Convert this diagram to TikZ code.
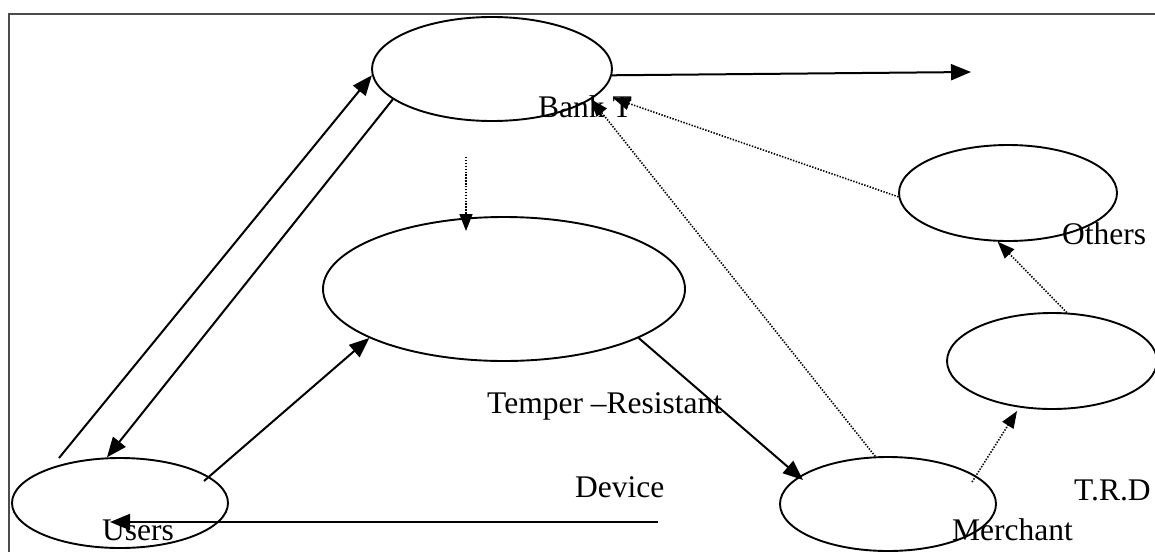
\documentclass[tikz,border=0pt]{standalone}
\usepackage{fontspec}
\setmainfont{Liberation Serif}
\usetikzlibrary{shapes.geometric,arrows.meta}
\begin{document}
\begin{tikzpicture}[x=1pt,y=-1pt,
  ell/.style={draw,ellipse,line width=1.9pt,inner sep=0pt},
  arr/.style={line width=2pt,-{Triangle[length=20pt,width=16pt]}},
  dotarr/.style={line width=1.6pt,dash pattern=on 1.4pt off 1.5pt,-{Triangle[length=17pt,width=13pt]}},
  lbl/.style={anchor=base west,inner sep=0pt,font=\fontsize{31.5}{36}\selectfont},
  frame/.style={draw=black!70,line width=2.2pt}]
\useasboundingbox (0,0) rectangle (1155,551);
\clip (0,0) rectangle (1155,551);
\draw[frame] (9,600) -- (9,14) -- (1200,14);
% ellipses
\node[ell,minimum width=240pt,minimum height=104pt] (bank) at (492,69) {};
\node[ell,minimum width=362pt,minimum height=144pt] (tamper) at (504,289) {};
\node[ell,minimum width=218pt,minimum height=96pt] (others) at (1008,193) {};
\node[ell,minimum width=210pt,minimum height=96pt] (trd) at (1052,361) {};
\node[ell,minimum width=216pt,minimum height=94pt] (merchant) at (888,504) {};
\node[ell,minimum width=216pt,minimum height=90pt] (users) at (120,503) {};
% labels
\node[lbl] (lbank) at (538,117) {Bank T};
\node[lbl] (lothers) at (1062,244) {Others};
\node[lbl] (ltamper) at (487,413) {Temper –Resistant};
\node[lbl] (ldevice) at (575,497) {Device};
\node[lbl] (lusers) at (102,540) {Users};
\node[lbl] (lmerchant) at (952,540) {Merchant};
\node[lbl] (ltrd) at (1074,500) {T.R.D};
% free coordinates
\coordinate (u1) at (59,458);
\coordinate (u2) at (204,481);
\coordinate (h1) at (658,522);
\coordinate (h2) at (110,522);
\coordinate (r1) at (971,72);
\coordinate (v1) at (466,157);
\coordinate (v2) at (466,231);
\coordinate (b2) at (613,98);
\coordinate (m2) at (972,482);
\coordinate (t2) at (1017,411);
\coordinate (mt) at (803,480);
% connectors
\draw[arr] (u1) -- (bank.183);
\draw[arr] (bank.197) -- (users.106);
\draw[arr] (u2) -- (tamper.200);
\draw[arr] (h1) -- (h2);
\draw[arr] (bank.357) -- (r1);
\draw[dotarr] (v1) -- (v2);
\draw[arr] (tamper.340) -- (mt);
\draw[dotarr] (merchant.105) -- (bank.343);
\draw[dotarr] (others.182) -- (b2);
\draw[dotarr] (m2) -- (t2);
\draw[dotarr] (trd.73) -- (others.258);
\end{tikzpicture}
\end{document}
